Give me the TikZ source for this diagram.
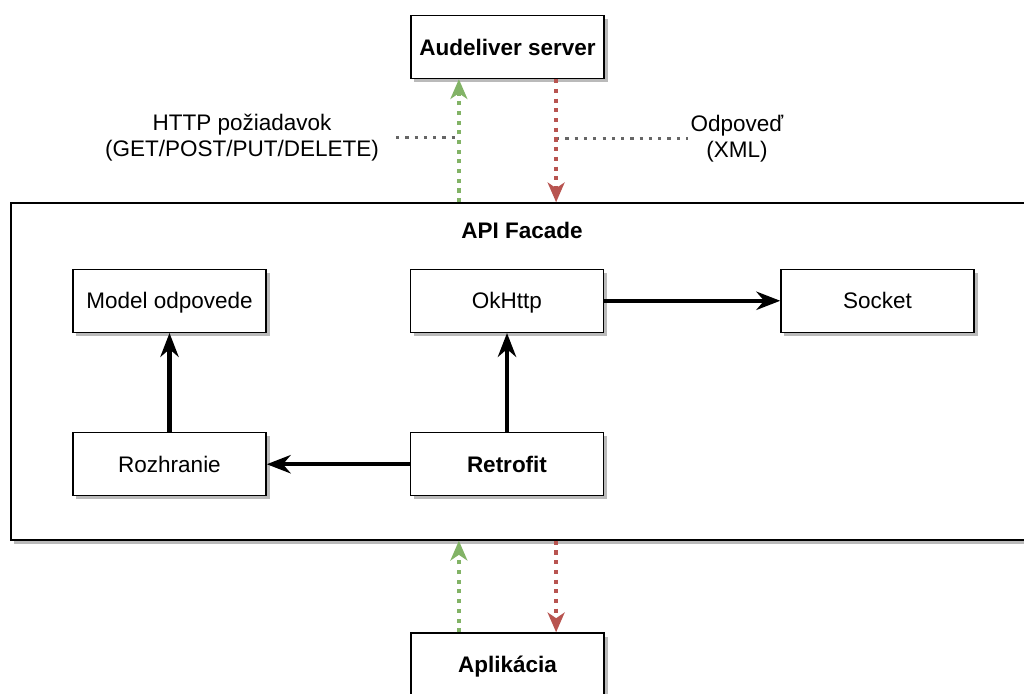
\documentclass[tikz,border=0pt]{standalone}
\usepackage{fontspec}
\setmainfont{Liberation Sans}
\usepackage{tikz}
\usetikzlibrary{matrix,arrows.meta,shadows}
\usetikzlibrary{calc}

\definecolor{reqgreen}{HTML}{82B366}
\definecolor{respred}{HTML}{B85450}
\definecolor{hintgray}{HTML}{666666}
\newcommand\diafont{\fontsize{16}{18.5}\selectfont}

\tikzset{
  box/.style={draw, line width=1pt, fill=white, inner sep=0pt,
    minimum width=4.825cm, minimum height=1.575cm, font=\diafont,
    text height=11.5pt, text depth=0pt,
    drop shadow={shadow xshift=2.5pt, shadow yshift=-2.5pt, fill=black!27, opacity=1}},
  boldbox/.style={box, font=\diafont\bfseries},
  note/.style={align=center, inner ysep=0pt, font=\diafont},
  flow/.style={draw, line width=3.2pt, -{Stealth[length=17pt, width=13pt, inset=5.5pt]}},
  reqline/.style={draw=reqgreen, line width=2.9pt, dash pattern=on 2.9pt off 4pt,
    -{Stealth[length=14pt, width=12pt, inset=4pt]}},
  respline/.style={reqline, draw=respred},
  hint/.style={draw=hintgray, line width=2pt, dash pattern=on 2.3pt off 4.3pt}
}

\begin{document}
\begin{tikzpicture}[x=0.025cm, y=-0.025cm]
\useasboundingbox (0,0) rectangle (1024,694);

\node[box, minimum width=25.55cm, minimum height=8.425cm] (facade) at (522,371.5) {};
\node[font=\diafont\bfseries] (factitle) at ([yshift=-0.7cm]facade.north) {API Facade};

\node[boldbox] (srv) at (507.5,47) {Audeliver server};
\node[boldbox] (app) at (507.5,664.5) {Aplikácia};

\matrix (m) [matrix of nodes, row sep=2.475cm, column sep=3.575cm, nodes={box, anchor=center}] at (523.5,382.5)
{
	Model odpovede & OkHttp &[0.825cm] Socket \\
	Rozhranie & |[boldbox]| Retrofit & \\
};
\path[flow]
(m-2-2) edge (m-2-1)
edge (m-1-2)
(m-2-1) edge (m-1-1)
(m-1-2) edge (m-1-3)
;

\node[note, inner xsep=12pt] (req) at (242,137.5) {HTTP požiadavok\\(GET/POST/PUT/DELETE)};
\node[note, inner xsep=2pt] (resp) at (737,138.5) {Odpoveď\\(XML)};

\coordinate (sa) at ($(srv.south west)!.25!(srv.south east)$);
\coordinate (sb) at ($(srv.south west)!.75!(srv.south east)$);
\coordinate (aa) at ($(app.north west)!.25!(app.north east)$);
\coordinate (ab) at ($(app.north west)!.75!(app.north east)$);

\draw[hint] (req.east) -- (req.east -| sa);
\draw[hint] (sb |- resp.west) -- (resp.west);

\draw[reqline] (sa |- facade.north) -- (sa);
\draw[respline] (sb) -- (sb |- facade.north);
\draw[reqline] (aa) -- (aa |- facade.south);
\draw[respline] (ab |- facade.south) -- (ab);
\end{tikzpicture}
\end{document}
